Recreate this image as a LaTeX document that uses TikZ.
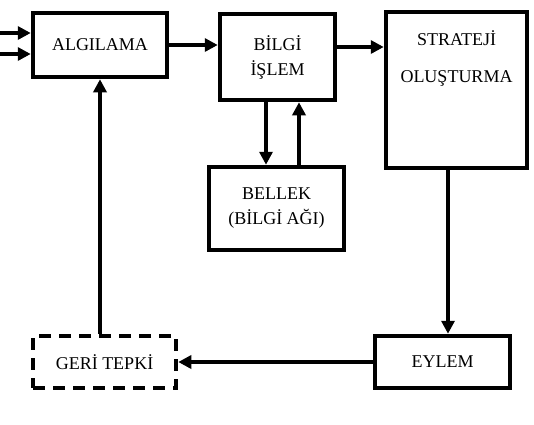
\documentclass[tikz,border=0pt]{standalone}
\usepackage{fontspec}
\setmainfont{Liberation Serif}
\usetikzlibrary{arrows.meta}

\begin{document}
\begin{tikzpicture}[x=1pt,y=-1pt,
  font=\fontsize{18}{25}\selectfont,
  blok/.style={draw,line width=4.5pt,inner sep=0pt,align=center},
  kesik/.style={blok,dash pattern=on 12pt off 8pt},
  ok/.style={line width=4pt,-{Triangle[length=13pt,width=13pt]}}]
  \useasboundingbox (0,0) rectangle (534,424);
  % kutular
  \node[blok,minimum width=134pt,minimum height=64pt] (algilama) at (100,45) {ALGILAMA};
  \node[blok,minimum width=115pt,minimum height=86pt] (bilgi) at (277.5,57) {BİLGİ\\İŞLEM};
  \node[blok,minimum width=141pt,minimum height=156pt] (strateji) at (456.5,90) {};
  \node[align=center,font=\fontsize{18}{37}\selectfont] (stratejimetin) at (456.5,58) {STRATEJİ\\OLUŞTURMA};
  \node[blok,minimum width=135pt,minimum height=83pt] (bellek) at (276.5,208.5) {BELLEK\\(BİLGİ AĞI)};
  \node[blok,minimum width=135pt,minimum height=52pt] (eylem) at (442.5,362) {EYLEM};
  \node[kesik,minimum width=143pt,minimum height=52pt] (geri) at (104.5,362) {GERİ TEPKİ};
  % girisler
  \coordinate (giris1) at (0,33);
  \coordinate (giris2) at (0,54);
  \draw[ok] (giris1) -- (giris1 -| algilama.west);
  \draw[ok] (giris2) -- (giris2 -| algilama.west);
  % baglantilar
  \coordinate (ustok) at ([yshift=-2pt]algilama.east);
  \draw[ok] (algilama.east) -- (algilama.east -| bilgi.west);
  \draw[ok] (ustok -| bilgi.east) -- (ustok -| strateji.west);
  \coordinate (asagi) at ([xshift=-11.5pt]bilgi.south);
  \coordinate (yukari) at ([xshift=22.5pt]bellek.north);
  \draw[ok] (asagi) -- (asagi |- bellek.north);
  \draw[ok] (yukari) -- (yukari |- bilgi.south);
  \coordinate (eylemust) at ([xshift=-8.5pt]strateji.south);
  \draw[ok] (eylemust) -- (eylemust |- eylem.north);
  \draw[ok] (eylem.west) -- (geri.east);
  \draw[ok] (algilama.south |- geri.north) -- (algilama.south);
\end{tikzpicture}
\end{document}
